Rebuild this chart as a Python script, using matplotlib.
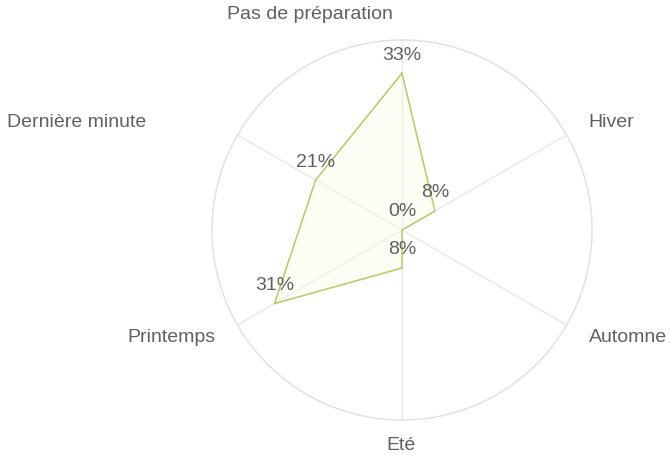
import numpy as np
import matplotlib
matplotlib.use('Agg')
import matplotlib.pyplot as plt

plt.rcParams['font.family'] = ['Liberation Sans', 'DejaVu Sans']

categories = ['Pas de préparation', 'Hiver', 'Automne', 'Eté', 'Printemps', 'Dernière minute']
values = [33, 8, 0, 8, 31, 21]
value_labels = ['33%', '8%', '0%', '8%', '31%', '21%']
r_max = 40

# label offsets (points) from the end of each spoke, and alignment
label_offsets = [(-66, 18), (16, 9), (16, -9), (-1, -18), (-16, -9), (-66, 9)]
label_ha = ['center', 'left', 'left', 'center', 'right', 'right']

fig = plt.figure(figsize=(6.7, 4.55), dpi=100)
ax = fig.add_axes([0.3164, 0.0769, 0.5672, 0.8352], projection='polar')
ax.set_theta_zero_location('N')
ax.set_theta_direction(-1)

angles = np.arange(len(categories)) * 2 * np.pi / len(categories)
ax.set_ylim(0, r_max)
ax.set_yticks([])
ax.set_xticks(angles)
ax.set_xticklabels([])
ax.tick_params(length=0)
ax.xaxis.grid(True, color='#e8e8e8', linewidth=1)
ax.spines['polar'].set_color('#e2e2e2')
ax.spines['polar'].set_linewidth(1.1)

th = np.append(angles, angles[0])
vv = np.append(values, values[0])
ax.fill(th, vv, color='#fafbe8', alpha=0.4, zorder=2)
ax.plot(th, vv, color='#bac962', linewidth=1.1, zorder=3)

for a, v, t in zip(angles, values, value_labels):
    ax.annotate(t, (a, v), xytext=(0, 13), textcoords='offset points',
                ha='center', va='center', fontsize=14, color='#606060', zorder=4)

for a, name, off, ha in zip(angles, categories, label_offsets, label_ha):
    ax.annotate(name, (a, r_max), xytext=off, textcoords='offset points',
                ha=ha, va='center', fontsize=14, color='#606060',
                annotation_clip=False)

fig.savefig('out.png', dpi=100)
